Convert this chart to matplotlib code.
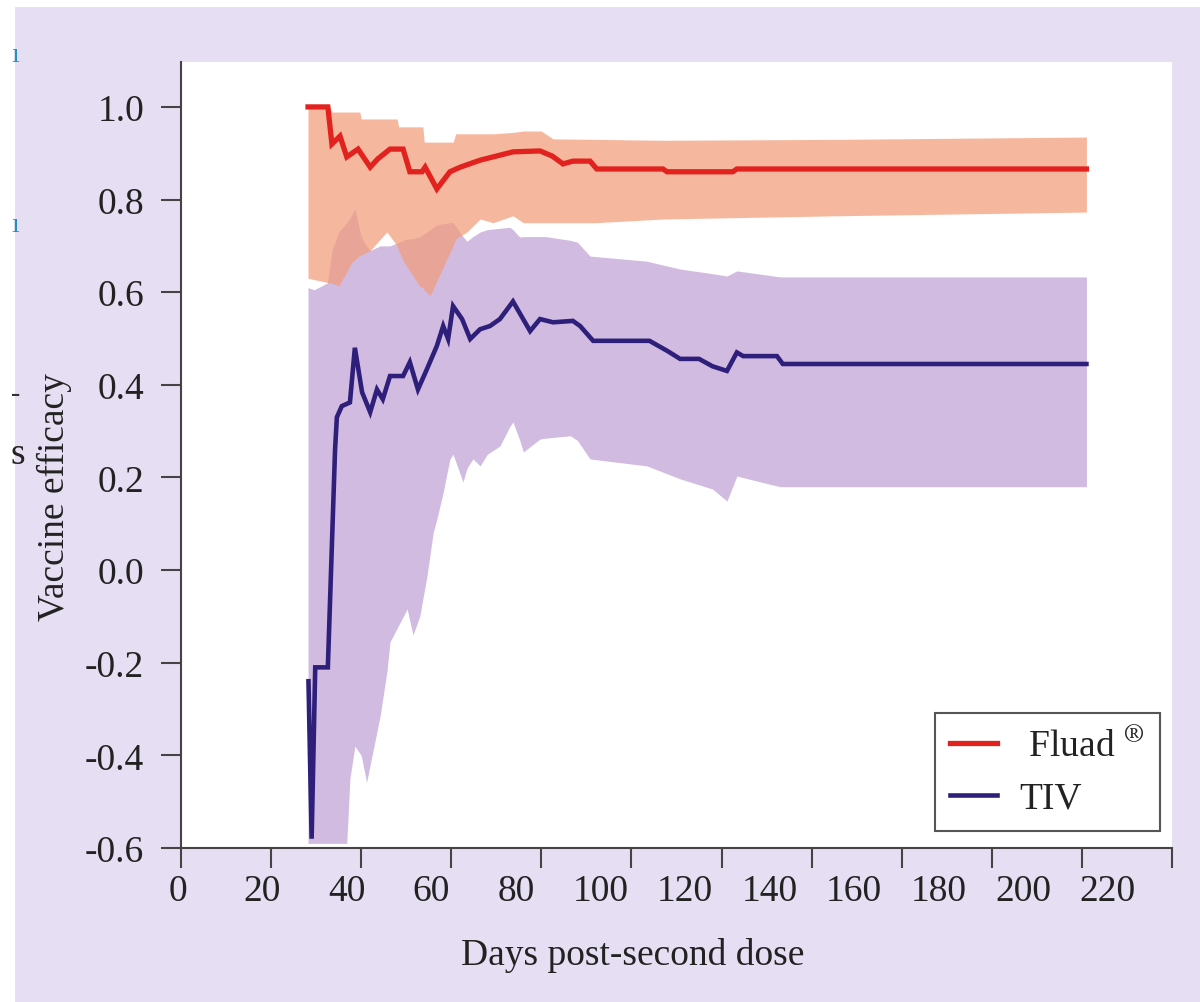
import numpy as np
import matplotlib.pyplot as plt
from matplotlib.patches import Rectangle
from matplotlib.transforms import ScaledTranslation

plt.rcParams['font.family'] = ['Liberation Serif', 'DejaVu Serif']
plt.rcParams['mathtext.fontset'] = 'stix'

# Fluad efficacy estimate
fluad_day = [28.2, 32.6, 33.5, 35.3, 36.8, 39.3, 42.0, 43.7, 46.4, 49.3, 50.8, 53.5, 54.2,
             56.8, 59.7, 62.0, 66.4, 73.7, 79.7, 82.4, 84.8, 87.0, 90.8, 92.3, 107.0, 107.9,
             122.5, 123.4, 201.0]
fluad_ve = [1.0, 1.0, 0.92, 0.937, 0.892, 0.909, 0.87, 0.888, 0.909, 0.909, 0.86, 0.86, 0.87,
            0.823, 0.86, 0.87, 0.885, 0.903, 0.905, 0.894, 0.877, 0.883, 0.883, 0.866, 0.866, 0.86,
            0.86, 0.866, 0.866]

# Fluad confidence band
fluad_band_day = [28.2, 33.0, 33.5, 35.0, 38.0, 39.7, 40.0, 42.0, 45.7, 48.0,
                  48.3, 49.5, 53.0, 53.7, 54.0, 55.3, 58.0, 60.4, 61.0, 63.5,
                  66.4, 69.3, 73.7, 76.0, 80.0, 82.6, 92.0, 107.0, 146.0, 201.0]
fluad_hi = [1.0, 1.0, 0.989, 0.989, 0.989, 0.989, 0.974, 0.974, 0.974, 0.974,
            0.957, 0.957, 0.957, 0.957, 0.924, 0.924, 0.924, 0.924, 0.942, 0.942,
            0.942, 0.942, 0.945, 0.948, 0.948, 0.931, 0.93, 0.928, 0.93, 0.935]
fluad_lo = [0.63, 0.62, 0.62, 0.613, 0.665, 0.68, 0.68, 0.69, 0.73, 0.70,
            0.69, 0.665, 0.613, 0.61, 0.605, 0.592, 0.65, 0.70, 0.715, 0.73,
            0.758, 0.75, 0.765, 0.75, 0.75, 0.75, 0.75, 0.758, 0.765, 0.773]

# TIV efficacy estimate
tiv_day = [28.3, 29.0, 29.8, 32.6, 34.2, 34.6, 35.7, 37.5, 38.6, 40.2, 42.0, 43.5, 44.8, 46.4,
           49.3, 50.8, 52.6, 54.6, 56.8, 58.2, 59.3, 60.4, 62.4, 64.2, 66.4, 68.6, 70.8, 73.7,
           77.5, 79.7, 82.6, 87.0, 88.6, 91.5, 104.0, 108.0, 110.8, 115.0, 118.0, 121.2, 123.4,
           124.8, 132.3, 133.6, 201.0]
tiv_ve = [-0.24, -0.58, -0.21, -0.21, 0.26, 0.33, 0.354, 0.362, 0.48, 0.384, 0.341, 0.39, 0.369,
          0.419, 0.419, 0.449, 0.39, 0.434, 0.484, 0.527, 0.499, 0.57, 0.542, 0.499, 0.52, 0.527,
          0.542, 0.58, 0.516, 0.542, 0.535, 0.538, 0.527, 0.495, 0.495, 0.473, 0.456, 0.456, 0.44,
          0.43, 0.47, 0.462, 0.462, 0.445, 0.445]

# TIV confidence band
tiv_band_day = [28.2, 29.5, 32.5, 33.5, 35.0, 36.8, 37.5, 38.6, 40.0, 41.2,
                42.0, 44.2, 45.7, 46.4, 50.2, 51.5, 53.0, 54.6, 56.0, 56.8,
                58.2, 59.7, 60.4, 62.6, 63.5, 64.8, 66.4, 68.0, 70.8, 73.0,
                73.7, 75.2, 76.0, 79.7, 81.0, 86.4, 88.0, 90.8, 103.4, 110.8,
                118.0, 121.2, 123.4, 133.0, 201.0]
tiv_hi = [0.61, 0.605, 0.62, 0.69, 0.73, 0.75, 0.76, 0.78, 0.72, 0.70,
          0.69, 0.70, 0.70, 0.70, 0.715, 0.715, 0.72, 0.73, 0.74, 0.745,
          0.748, 0.75, 0.75, 0.72, 0.71, 0.72, 0.73, 0.735, 0.738, 0.74,
          0.735, 0.719, 0.72, 0.72, 0.72, 0.712, 0.708, 0.678, 0.667, 0.65,
          0.64, 0.635, 0.646, 0.633, 0.633]
tiv_lo = [-0.59, -0.59, -0.59, -0.59, -0.59, -0.59, -0.45, -0.38, -0.40, -0.458,
          -0.42, -0.315, -0.22, -0.155, -0.084, -0.14, -0.10, -0.013, 0.082, 0.11,
          0.168, 0.24, 0.25, 0.19, 0.22, 0.24, 0.225, 0.25, 0.268, 0.31,
          0.32, 0.28, 0.255, 0.283, 0.285, 0.29, 0.28, 0.24, 0.225, 0.197,
          0.175, 0.149, 0.203, 0.18, 0.18]

xticks = np.arange(0, 221, 20)
yticks = np.round(np.arange(-0.6, 1.01, 0.2), 1)

fig = plt.figure(figsize=(12, 10.03), dpi=100, facecolor='white')
fig.patches.append(Rectangle((15 / 1200, 0), 1, 1 - 8 / 1003, transform=fig.transFigure,
                             facecolor='#e6def2', edgecolor='none', zorder=-10))

ax = fig.add_axes([181 / 1200, 154 / 1003, 991 / 1200, 786 / 1003])
ax.set_facecolor('white')

ax.fill_between(tiv_band_day, tiv_lo, tiv_hi, color='#d2bbe1', linewidth=0, zorder=1)
ax.fill_between(fluad_band_day, fluad_lo, fluad_hi, color='#f29b77', alpha=0.7,
                linewidth=0, zorder=2)
ax.plot(fluad_day, fluad_ve, color='#e2221e', lw=3.8, solid_joinstyle='miter', zorder=3,
        label=' Fluad $^{\\circledR}$')
ax.plot(tiv_day, tiv_ve, color='#2e1f7a', lw=3.3, solid_joinstyle='miter', zorder=3,
        label='TIV')

ax.set_xlim(0, 220)
ax.set_ylim(-0.6, 1.097)
for side in ['top', 'right']:
    ax.spines[side].set_visible(False)
for side in ['left', 'bottom']:
    ax.spines[side].set_color('#444444')
    ax.spines[side].set_linewidth(1.5)

ax.set_xticks(xticks, [str(t) for t in xticks])
ax.set_yticks(yticks, [f'{t:.1f}' for t in yticks])
ax.tick_params(axis='both', length=14.4, width=1.5, color='#444444', labelsize=27,
               labelcolor='#222222', direction='out')
ax.tick_params(axis='y', pad=12)
ax.tick_params(axis='x', pad=4)

# the original tick labels drift left of their ticks
for i, lab in enumerate(ax.get_xticklabels()):
    dx = -(3 + 5.6 * i) / 100
    lab.set_transform(lab.get_transform() + ScaledTranslation(dx, 0, fig.dpi_scale_trans))

ax.set_xlabel('Days post-second dose', fontsize=27, color='#222222')
ax.xaxis.set_label_coords(0.456, -0.113)
ax.set_ylabel('Vaccine efficacy', fontsize=27, color='#222222')
ax.yaxis.set_label_coords(-0.11, 0.448)

leg = ax.legend(loc='lower right', bbox_to_anchor=(0.988, 0.022), borderaxespad=0,
                fontsize=27, handlelength=1.25, handletextpad=0.6, labelspacing=0.45,
                fancybox=False, framealpha=1, edgecolor='#555555')
leg.get_frame().set_linewidth(1.5)
for t in leg.get_texts():
    t.set_color('#222222')

# cropped fragments of the neighbouring panel
fig.text(18 / 1200, 1 - 455 / 1003, 's', fontsize=27, ha='center', va='center', color='#222222')
fig.text(16 / 1200, 1 - 395 / 1003, '-', fontsize=20, ha='center', va='center', color='#333333')
fig.text(15 / 1200, 1 - 55 / 1003, 'ı', fontsize=20, ha='center', va='center', color='#2a8cc4')
fig.text(15 / 1200, 1 - 225 / 1003, 'ı', fontsize=20, ha='center', va='center', color='#2a8cc4')

fig.savefig('out.png', dpi=100)
